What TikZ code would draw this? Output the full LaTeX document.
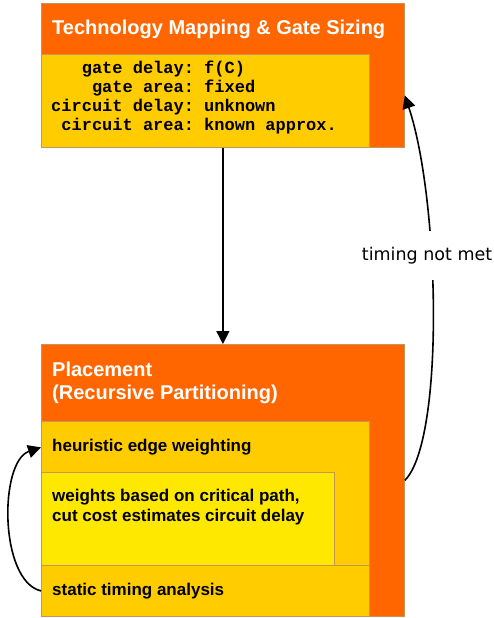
\documentclass[tikz,border=0pt]{standalone}
\usepackage{fontspec}
\setmainfont{Liberation Sans}
\setmonofont{Liberation Mono}
\newfontfamily\notefont{DejaVu Sans}
\usetikzlibrary{arrows.meta}
\definecolor{flowor}{RGB}{255,102,0}
\definecolor{flowye}{RGB}{255,204,0}
\definecolor{flowlt}{RGB}{255,232,0}
\definecolor{flowrim}{RGB}{196,150,92}
\tikzset{
  panel/.style={rectangle,draw=flowrim,line width=0.8pt,inner sep=0pt,anchor=north west},
  head/.style={inner sep=0pt,anchor=base west,text=white,font=\fontsize{20}{23}\selectfont\bfseries},
  body/.style={inner sep=0pt,anchor=base west,font=\fontsize{17}{20}\selectfont\bfseries},
  code/.style={inner sep=0pt,anchor=base west,font=\fontsize{17}{18.9}\selectfont\ttfamily\bfseries},
  flow/.style={line width=1.6pt,-{Triangle[length=13pt,width=13pt]}}
}
\begin{document}
\begin{tikzpicture}[x=1pt,y=-1pt]
\useasboundingbox (0,0) rectangle (493,618);
% upper stage
\node[panel,fill=flowor,minimum width=363pt,minimum height=144pt] (tmap) at (41,3) {};
\node[panel,fill=flowye,minimum width=328pt,minimum height=93pt] (tmapin) at (41,54) {};
\node[head] (tmaphd) at (52,34.3) {Technology Mapping \& Gate Sizing};
\node[code] (tmapfx) at (51,74) {\begin{tabular}[t]{@{}r@{ }l@{}}
gate delay:&f(C)\\
gate area:&fixed\\
circuit delay:&unknown\\
circuit area:&known approx.
\end{tabular}};
% lower stage
\node[panel,fill=flowor,minimum width=363pt,minimum height=272pt] (place) at (41,344) {};
\node[panel,fill=flowye,minimum width=328pt,minimum height=195pt] (hew) at (41,421) {};
\node[panel,fill=flowlt,minimum width=293pt,minimum height=93pt] (wts) at (41,472) {};
\node[panel,fill=flowye,minimum width=328pt,minimum height=51pt] (sta) at (41,565) {};
\node[head] (placehd) at (52,376.7) {\begin{tabular}[t]{@{}l@{}}
Placement\\
(Recursive Partitioning)
\end{tabular}};
\node[body] (heur) at (52,451.7) {heuristic edge weighting};
\node[body] (wtstx) at (52,501.7) {\begin{tabular}[t]{@{}l@{}}
weights based on critical path,\\
cut cost estimates circuit delay
\end{tabular}};
\node[body] (statx) at (52,595.7) {static timing analysis};
% connectors
\draw[flow] (tmap.south) -- (place.north);
\draw[flow] (place.east) .. controls +(40,-40) and +(35,105) .. ([yshift=-20pt]tmap.east);
\node[fill=white,inner xsep=0pt,inner ysep=16pt,anchor=base west,
  font=\fontsize{17.5}{20}\selectfont\notefont] (tnm) at (361.7,260) {timing not met};
\draw[flow] (sta.west) .. controls +(-42,-10) and +(-42,14) .. (hew.west |- heur);
\end{tikzpicture}
\end{document}
